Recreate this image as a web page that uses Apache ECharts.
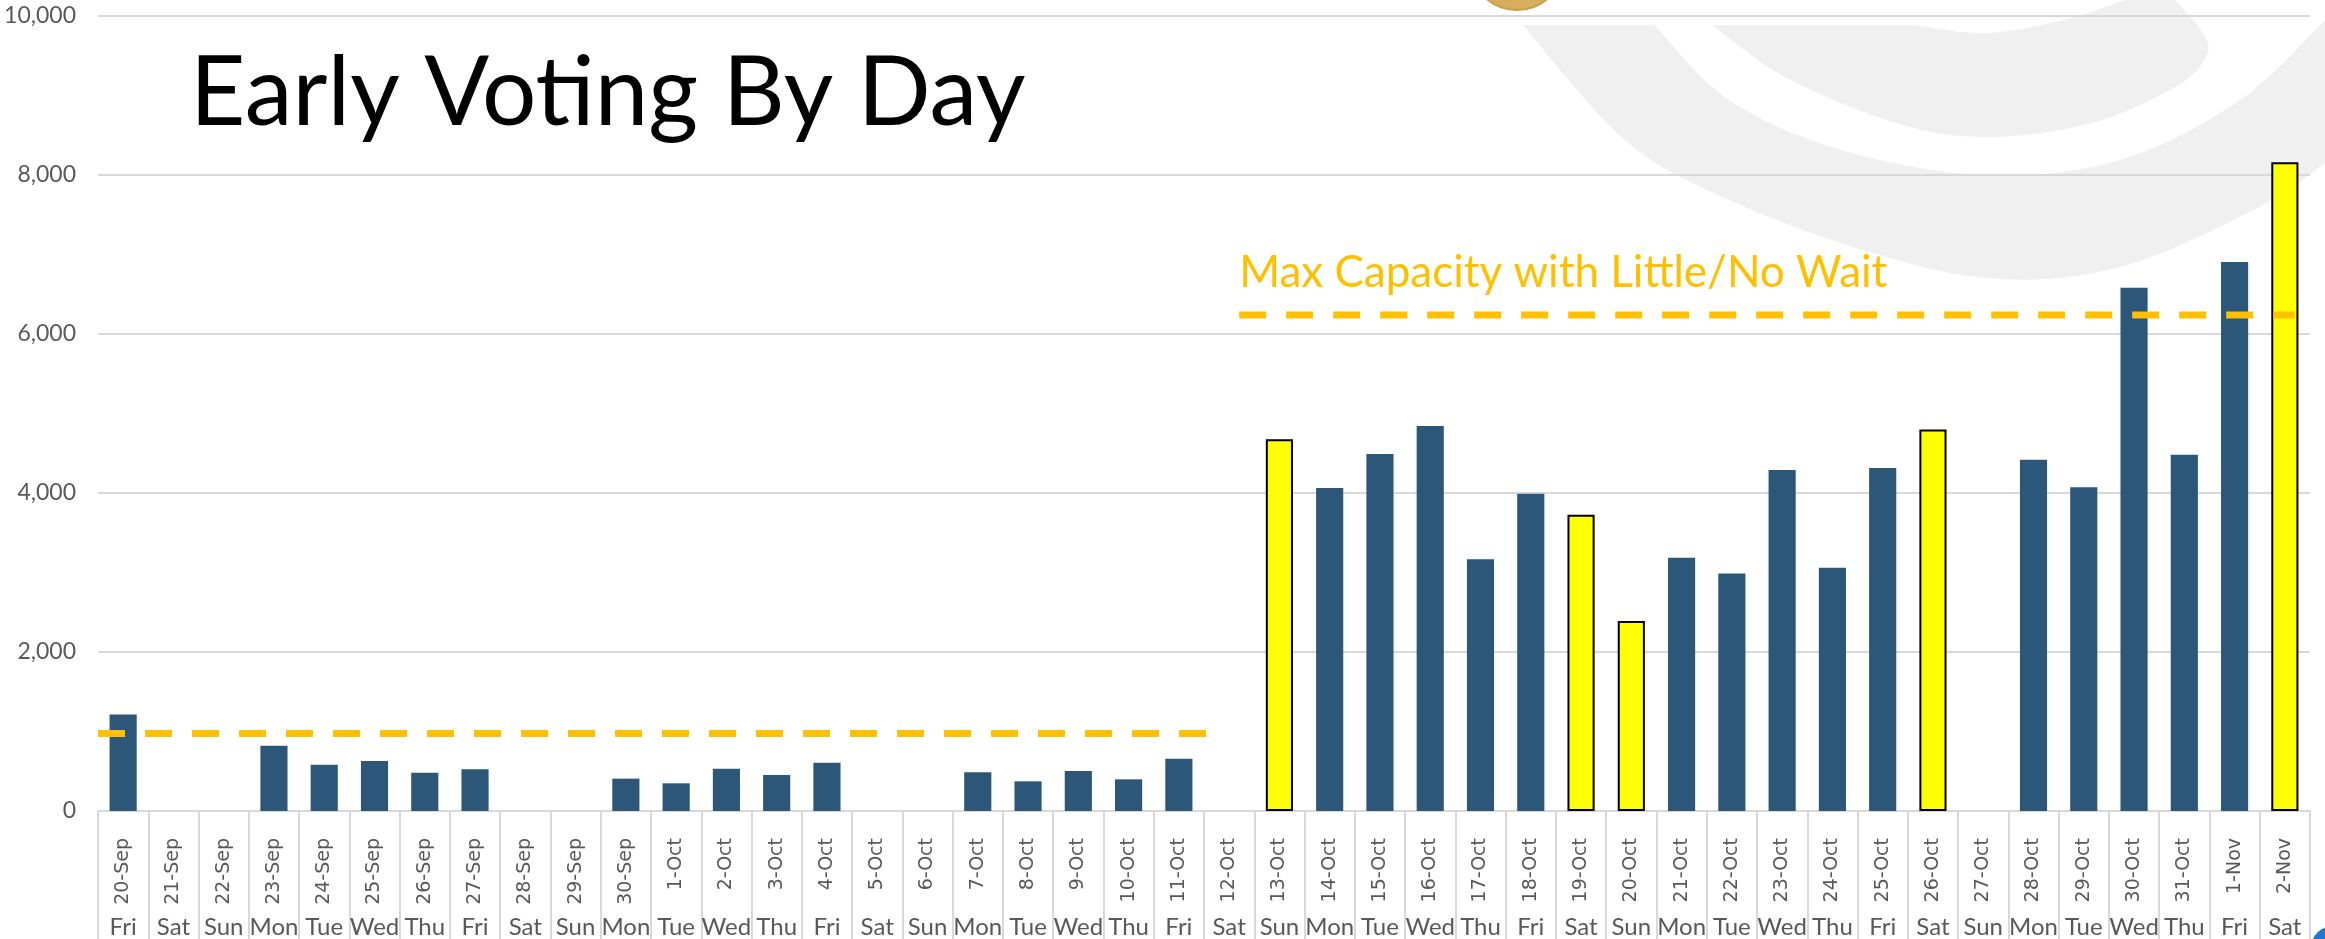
<!DOCTYPE html>
<html>
<head>
<meta charset="utf-8">
<script src="https://cdn.jsdelivr.net/npm/echarts@6/dist/echarts.min.js"></script>
<style>
html, body { margin: 0; padding: 0; background: #fff; }
#main { width: 2325px; height: 939px; }
</style>
</head>
<body>
<div id="main"></div>
<script>
// early voting turnout per day
var days = ['20-Sep', '21-Sep', '22-Sep', '23-Sep', '24-Sep', '25-Sep', '26-Sep', '27-Sep', '28-Sep', '29-Sep', '30-Sep',
  '1-Oct', '2-Oct', '3-Oct', '4-Oct', '5-Oct', '6-Oct', '7-Oct', '8-Oct', '9-Oct', '10-Oct', '11-Oct', '12-Oct',
  '13-Oct', '14-Oct', '15-Oct', '16-Oct', '17-Oct', '18-Oct', '19-Oct', '20-Oct', '21-Oct', '22-Oct', '23-Oct',
  '24-Oct', '25-Oct', '26-Oct', '27-Oct', '28-Oct', '29-Oct', '30-Oct', '31-Oct', '1-Nov', '2-Nov'];
var weekdays = ['Fri', 'Sat', 'Sun', 'Mon', 'Tue', 'Wed', 'Thu', 'Fri', 'Sat', 'Sun', 'Mon',
  'Tue', 'Wed', 'Thu', 'Fri', 'Sat', 'Sun', 'Mon', 'Tue', 'Wed', 'Thu', 'Fri', 'Sat',
  'Sun', 'Mon', 'Tue', 'Wed', 'Thu', 'Fri', 'Sat', 'Sun', 'Mon', 'Tue', 'Wed',
  'Thu', 'Fri', 'Sat', 'Sun', 'Mon', 'Tue', 'Wed', 'Thu', 'Fri', 'Sat'];
var votes = [1215, 0, 0, 822, 583, 629, 482, 524, 0, 0, 407,
  348, 532, 453, 608, 0, 0, 486, 373, 503, 398, 658, 0,
  4675, 4063, 4492, 4843, 3166, 3990, 3725, 2390, 3186, 2988, 4289,
  3060, 4313, 4800, 0, 4419, 4072, 6583, 4482, 6906, 8160];
// weekend days drawn in yellow
var highlightDays = ['13-Oct', '19-Oct', '20-Oct', '26-Oct', '2-Nov'];

// capacity lines (value) and how far they run, in category units from the left edge
var capacityLow = 975;
var capacityHigh = 6240;
var lowSpan = [0, 22.4];
var highSpan = [22.7, 43.7];
var capacityText = 'Max Capacity with Little/No Wait';
var chartTitle = 'Early Voting By Day';

var sans = "Lato, 'Liberation Sans', sans-serif";
var gridColor = '#D9D9D9';
var textColor = '#595959';

var myChart = echarts.init(document.getElementById('main'));

var barData = votes.map(function (v, i) {
  if (highlightDays.indexOf(days[i]) >= 0) {
    return { value: v, itemStyle: { color: '#FFFF00', borderColor: '#000', borderWidth: 2 } };
  }
  return v;
});

var dashStyle = { color: '#FFC000', width: 7, type: [27, 20], cap: 'butt' };

var option = {
  backgroundColor: '#fff',
  animation: false,
  grid: { left: 98, right: 15, top: 16, bottom: 128, containLabel: false, outerBoundsMode: 'none' },
  xAxis: [
    {
      type: 'category',
      data: days,
      position: 'bottom',
      axisLine: { show: true, lineStyle: { color: gridColor, width: 2 } },
      axisTick: { show: true, length: 128, lineStyle: { color: gridColor, width: 2 } },
      axisLabel: { rotate: 90, margin: 27, fontSize: 19, fontFamily: 'DejaVu Sans', color: textColor, interval: 0 }
    },
    {
      type: 'category',
      data: days,
      position: 'bottom',
      axisLine: { show: false },
      axisTick: { show: false },
      axisLabel: {
        margin: 104, fontSize: 24, fontFamily: sans, color: textColor, interval: 0,
        formatter: function (val, idx) { return weekdays[idx]; }
      }
    },
    { type: 'value', min: 0, max: days.length, show: false }
  ],
  yAxis: {
    type: 'value',
    min: 0,
    max: 10000,
    interval: 2000,
    axisLine: { show: false },
    axisTick: { show: false },
    axisLabel: {
      margin: 22, fontSize: 23, fontFamily: sans, color: textColor,
      formatter: function (v) { return v.toLocaleString('en-US'); }
    },
    splitLine: { lineStyle: { color: gridColor, width: 2 } }
  },
  series: [
    {
      type: 'bar',
      xAxisIndex: 0,
      data: barData,
      barWidth: '54%',
      itemStyle: { color: '#2D5779' }
    },
    {
      type: 'line',
      xAxisIndex: 2,
      symbol: 'none',
      lineStyle: dashStyle,
      data: [[lowSpan[0], capacityLow], [lowSpan[1], capacityLow]]
    },
    {
      type: 'line',
      xAxisIndex: 2,
      symbol: 'none',
      lineStyle: dashStyle,
      data: [[highSpan[0], capacityHigh], [highSpan[1], capacityHigh]]
    }
  ]
};
myChart.setOption(option);

// catmull-rom through the given points, used for the watermark outline
function spline(pts) {
  var out = [];
  var n = pts.length;
  for (var i = 0; i < n - 1; i++) {
    var p0 = pts[Math.max(i - 1, 0)], p1 = pts[i], p2 = pts[i + 1], p3 = pts[Math.min(i + 2, n - 1)];
    for (var k = 0; k < 16; k++) {
      var t = k / 16, t2 = t * t, t3 = t2 * t;
      out.push([0, 1].map(function (d) {
        return 0.5 * (2 * p1[d] + (-p0[d] + p2[d]) * t + (2 * p0[d] - 5 * p1[d] + 4 * p2[d] - p3[d]) * t2 +
          (-p0[d] + 3 * p1[d] - 3 * p2[d] + p3[d]) * t3);
      }));
    }
  }
  out.push(pts[n - 1]);
  return out;
}

var outerEdge = spline([[1523, 25], [1617, 133], [1701, 187], [1841, 243], [1986, 278], [2120, 267], [2259, 207], [2325, 163]]);
var bandEdge = spline([[1654, 25], [1729, 100], [1841, 150], [1986, 175], [2120, 160], [2240, 100], [2325, 20]]);
var innerEdge = spline([[1712, 25], [1785, 77], [1896, 123], [1986, 137], [2092, 123], [2175, 87], [2206, 57], [2203, 33], [2175, 0]]);
var holeEdge = spline([[2125, 0], [2064, 20], [1986, 33], [1913, 25]]);

// label sits above the start of the upper capacity line
var p = myChart.convertToPixel({ xAxisIndex: 2, yAxisIndex: 0 }, [highSpan[0], capacityHigh]);

myChart.setOption({
  graphic: {
    elements: [
      {
        type: 'polygon', z: -10, silent: true,
        shape: { points: outerEdge.concat(bandEdge.slice().reverse()) },
        style: { fill: '#F0F0F0' }
      },
      {
        type: 'polygon', z: -10, silent: true,
        shape: { points: innerEdge.concat(holeEdge) },
        style: { fill: '#F0F0F0' }
      },
      {
        type: 'circle', z: -5, silent: true,
        shape: { cx: 1517, cy: -37, r: 47 },
        style: { fill: '#D6AE5C', stroke: '#C9A04A', lineWidth: 2 }
      },
      {
        type: 'circle', z: -5, silent: true,
        shape: { cx: 2333, cy: 948, r: 22 },
        style: { fill: '#1E78D2' }
      },
      {
        type: 'text', silent: true,
        x: 190, y: 94,
        style: { text: chartTitle, fontSize: 96, fontFamily: sans, fill: '#000', verticalAlign: 'middle', align: 'left' }
      },
      {
        type: 'text', silent: true,
        x: p[0], y: p[1] - 42,
        style: { text: capacityText, fontSize: 44, fontFamily: sans, fill: '#FFC000', verticalAlign: 'middle', align: 'left' }
      }
    ]
  }
});
</script>
</body>
</html>
